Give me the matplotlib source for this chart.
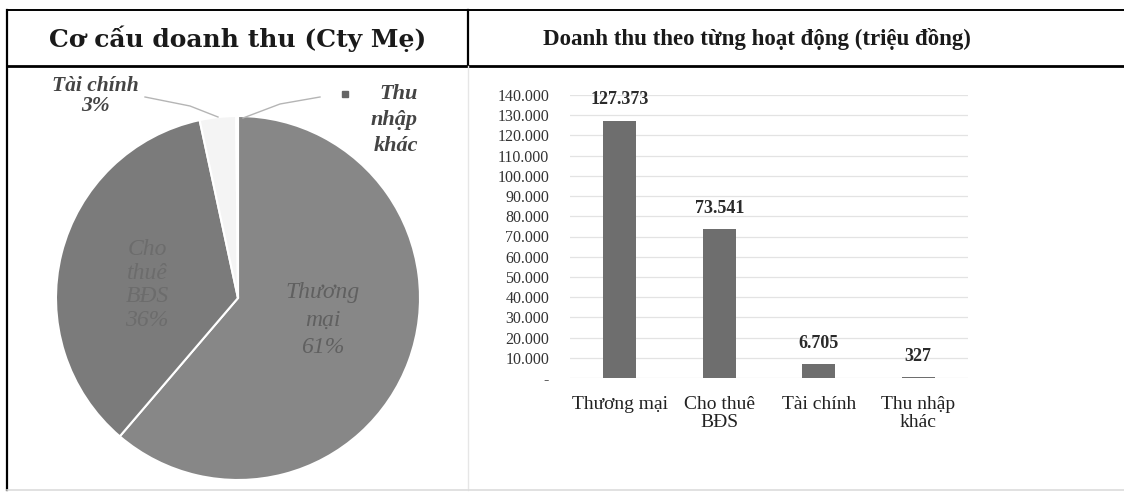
import matplotlib
matplotlib.use("Agg")
import matplotlib.pyplot as plt
from matplotlib.lines import Line2D

# ---------------- data ----------------
categories = ["Thương mại", "Cho thuê\nBĐS", "Tài chính", "Thu nhập\nkhác"]
revenue = [127373, 73541, 6705, 327]
value_labels = ["127.373", "73.541", "6.705", "327"]
pie_pct_labels = ["61%", "36%", "3%", ""]
yticks = [0, 10000, 20000, 30000, 40000, 50000, 60000, 70000,
          80000, 90000, 100000, 110000, 120000, 130000, 140000]
ytick_labels = ["-", "10.000", "20.000", "30.000", "40.000", "50.000", "60.000",
                "70.000", "80.000", "90.000", "100.000", "110.000", "120.000",
                "130.000", "140.000"]
title_left = "Cơ cấu doanh thu (Cty Mẹ)"
title_right = "Doanh thu theo từng hoạt động (triệu đồng)"

W, H = 1124, 493
fig = plt.figure(figsize=(W / 100, H / 100), dpi=100)
fig.patch.set_facecolor("white")
plt.rcParams["font.family"] = ["Liberation Serif", "DejaVu Serif"]

def fx(px):
    return px / W

def fy(py):
    return 1 - py / H

def hline(y, x0, x1, color="black", lw=1.5):
    fig.add_artist(Line2D([fx(x0), fx(x1)], [fy(y), fy(y)], color=color, lw=lw,
                          transform=fig.transFigure))

def vline(x, y0, y1, color="black", lw=1.5):
    fig.add_artist(Line2D([fx(x), fx(x)], [fy(y0), fy(y1)], color=color, lw=lw,
                          transform=fig.transFigure))

# table frame
hline(10, 7, 1124, lw=1.4)
hline(66, 7, 1124, lw=2.0)
vline(7, 10, 490, lw=1.6)
vline(468, 10, 66, lw=1.6)
vline(468, 66, 490, color="#e6e6e6", lw=1.0)
hline(490, 7, 1124, color="#dcdcdc", lw=1.2)

# titles
fig.text(fx(238), fy(39), title_left, ha="center", va="center",
         fontsize=18, fontweight="bold", color="#1a1a1a", family="DejaVu Serif")
fig.text(fx(757), fy(39), title_right, ha="center", va="center",
         fontsize=16.5, fontweight="bold", color="#1a1a1a")

# ---------------- pie ----------------
cx, cy, r = 238, 298, 182
axp = fig.add_axes([fx(cx - r), fy(cy + r), 2 * r / W, 2 * r / H])
pie_colors = ["#878787", "#7b7b7b", "#f4f4f4", "#ffffff"]
axp.pie(revenue, colors=pie_colors, startangle=90, counterclock=False,
        wedgeprops=dict(edgecolor="white", linewidth=1.5))
axp.set_xlim(-1, 1)
axp.set_ylim(-1, 1)

def d(px, py):
    return ((px - cx) / r, (cy - py) / r)

axp.text(*d(147, 285), "Cho\nthuê\nBĐS\n" + pie_pct_labels[1], ha="center", va="center",
         fontsize=17, fontstyle="italic", color="#6c6c6c", linespacing=1.18)
axp.text(*d(323, 320), "Thương\nmại\n" + pie_pct_labels[0], ha="center", va="center",
         fontsize=17, fontstyle="italic", color="#606060", linespacing=1.4)
axp.text(*d(95, 96), "Tài chính\n" + pie_pct_labels[2], ha="center", va="center",
         fontsize=15.5, fontstyle="italic", fontweight="bold", color="#444444",
         linespacing=1.0)
axp.text(*d(418, 120), "Thu\nnhập\nkhác", ha="right", va="center", multialignment="right",
         fontsize=16, fontstyle="italic", fontweight="bold", color="#444444",
         linespacing=1.4)
# leader lines
lx, ly = zip(d(145, 97), d(190, 106), d(218, 117))
axp.plot(lx, ly, color="#b5b5b5", lw=1.0, clip_on=False)
lx, ly = zip(d(243, 118), d(280, 104), d(320, 97))
axp.plot(lx, ly, color="#b5b5b5", lw=1.0, clip_on=False)
axp.plot(*d(345, 94), marker="s", ms=4, color="#666666", clip_on=False)

# ---------------- bars ----------------
x0, x1, y0, y1 = 570, 968, 378, 95
axb = fig.add_axes([fx(x0), fy(y0), (x1 - x0) / W, (y0 - y1) / H])
pos = list(range(len(categories)))
axb.bar(pos, revenue, width=0.33, color="#6e6e6e", zorder=3)
axb.set_xlim(-0.5, len(categories) - 0.5)
axb.set_ylim(0, 140000)
axb.set_yticks(yticks)
axb.set_yticklabels(ytick_labels, fontsize=11.5, color="#333333")
axb.set_xticks(pos)
axb.set_xticklabels(categories, fontsize=14, color="#222222", linespacing=1.1)
axb.tick_params(axis="y", length=0, pad=15)
axb.tick_params(axis="x", length=0, pad=13)
for s in axb.spines.values():
    s.set_visible(False)
axb.yaxis.grid(True, color="#e3e3e3", lw=0.9, zorder=0)
axb.set_axisbelow(True)
for p, v, lab in zip(pos, revenue, value_labels):
    axb.annotate(lab, (p, v), xytext=(0, 9), textcoords="offset points",
                 ha="center", va="bottom", fontsize=13, fontweight="bold",
                 color="#2a2a2a", annotation_clip=False)

fig.savefig("out.png", dpi=100, facecolor="white")
